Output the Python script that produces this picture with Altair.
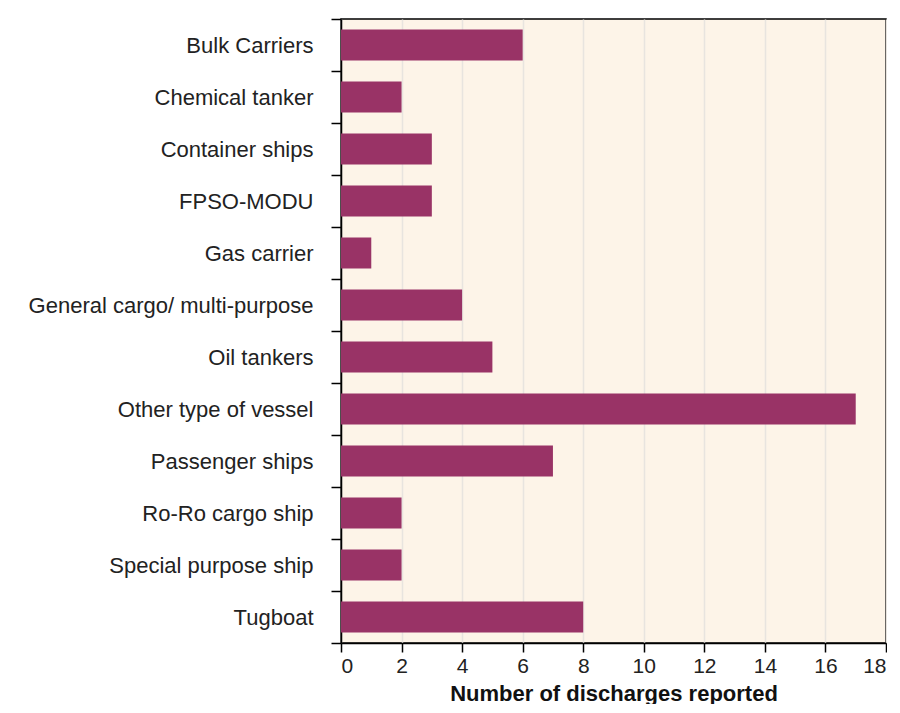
import altair as alt
import pandas as pd

categories = ["Bulk Carriers", "Chemical tanker", "Container ships", "FPSO-MODU",
              "Gas carrier", "General cargo/ multi-purpose", "Oil tankers",
              "Other type of vessel", "Passenger ships", "Ro-Ro cargo ship",
              "Special purpose ship", "Tugboat"]
values = [6, 2, 3, 3, 1, 4, 5, 17, 7, 2, 2, 8]

df = pd.DataFrame({"vessel": categories, "count": values})

chart = alt.Chart(df).mark_bar(color="#993366", size=31).encode(
    x=alt.X("count:Q", title="Number of discharges reported",
            scale=alt.Scale(domain=[0, 18], nice=False),
            axis=alt.Axis(values=list(range(0, 19, 2)), grid=True, gridColor="#e8e4df",
                          gridWidth=1.5, domainColor="black", domainWidth=1.5,
                          tickColor="black", tickWidth=1.5, tickSize=9,
                          labelFontSize=21, labelColor="#222", labelPadding=3,
                          labelFont="Liberation Sans",
                          titleFont="Liberation Sans", titleFontSize=22,
                          titleFontWeight="bold", titleColor="#111", titlePadding=7)),
    y=alt.Y("vessel:N", title=None, sort=categories,
            scale=alt.Scale(paddingInner=0, paddingOuter=0),
            axis=alt.Axis(tickBand="extent", domainColor="black", domainWidth=1.5,
                          tickColor="black", tickWidth=1.5, tickSize=10,
                          labelFontSize=22, labelColor="#222", labelPadding=18,
                          labelFont="Liberation Sans", labelLimit=400)),
).properties(
    width=545, height=624, padding={"left": 20, "top": 0, "right": 0, "bottom": 0},
    background="white",
).configure_view(
    fill="#fdf4e8", stroke="black", strokeWidth=1.5
)

chart.save("out.html", embed_options={"renderer": "svg", "actions": False})
